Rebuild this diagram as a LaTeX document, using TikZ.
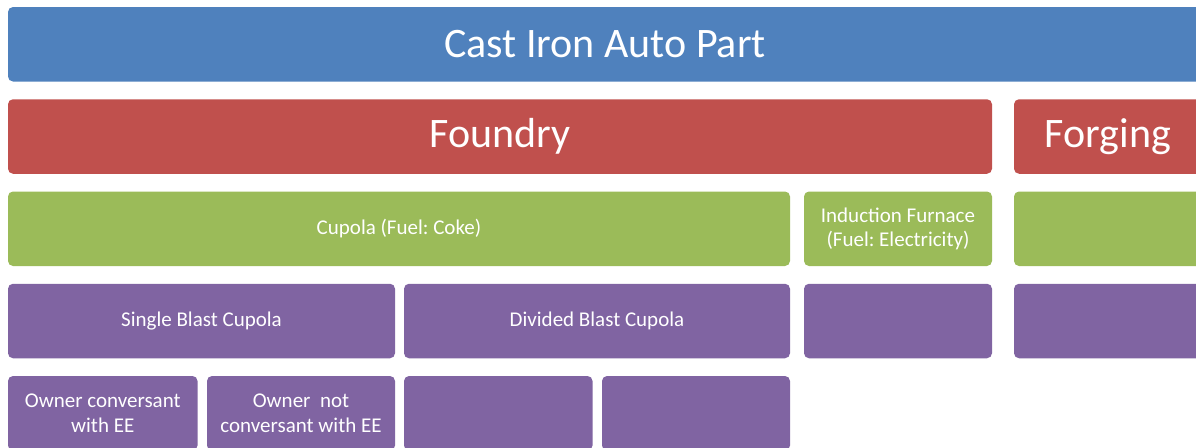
\documentclass[tikz,border=0pt]{standalone}
\usepackage{fontspec}
\setmainfont{Carlito}
\frenchspacing
\definecolor{partblue}{HTML}{4F81BD}
\definecolor{procred}{HTML}{C0504D}
\definecolor{furngreen}{HTML}{9BBB59}
\definecolor{typepurple}{HTML}{8064A2}
\begin{document}
\begin{tikzpicture}[x=1pt, y=-1pt,
  box/.style={rounded corners=5pt, text=white, inner sep=0pt, align=center, minimum height=74.5pt},
  big/.style={box, font=\fontsize{42}{50}\selectfont},
  small/.style={box, font=\fontsize{21}{24.5}\selectfont}]
  \useasboundingbox (0,0) rectangle (1196,447);
  \clip (0,0) rectangle (1196,447);
  % Product
  \node[big, fill=partblue, minimum width=1194pt] (part) at (605,44.25) {Cast Iron Auto Part};
  % Process
  \node[big, fill=procred, minimum width=984pt] (foundry) at (500,136.5) {Foundry};
  \node[big, fill=procred, minimum width=188pt] (forging) at (1108,136.5) {Forging};
  % Furnace
  \node[small, fill=furngreen, minimum width=782pt] (cupola) at (399,228.75) {Cupola (Fuel: Coke)};
  \node[small, fill=furngreen, minimum width=188pt] (induction) at (898,228.75) {Induction Furnace\\(Fuel: Electricity)};
  \node[small, fill=furngreen, minimum width=188pt] (forgefurn) at (1108,228.75) {};
  % Cupola type
  \node[small, fill=typepurple, minimum width=387pt] (single) at (201.5,321) {Single Blast Cupola};
  \node[small, fill=typepurple, minimum width=386pt] (divided) at (597,321) {Divided Blast Cupola};
  \node[small, fill=typepurple, minimum width=188pt] (indtype) at (898,321) {};
  \node[small, fill=typepurple, minimum width=188pt] (forgetype) at (1108,321) {};
  % Owner
  \node[small, fill=typepurple, minimum width=189.5pt] (conv) at (102.75,413.25) {Owner conversant\\with EE};
  \node[small, fill=typepurple, minimum width=188pt] (notconv) at (301,413.25) {Owner\ \ not\\conversant with EE};
  \node[small, fill=typepurple, minimum width=188.5pt] (divconv) at (498.25,413.25) {};
  \node[small, fill=typepurple, minimum width=188pt] (divnotconv) at (696,413.25) {};
\end{tikzpicture}
\end{document}
